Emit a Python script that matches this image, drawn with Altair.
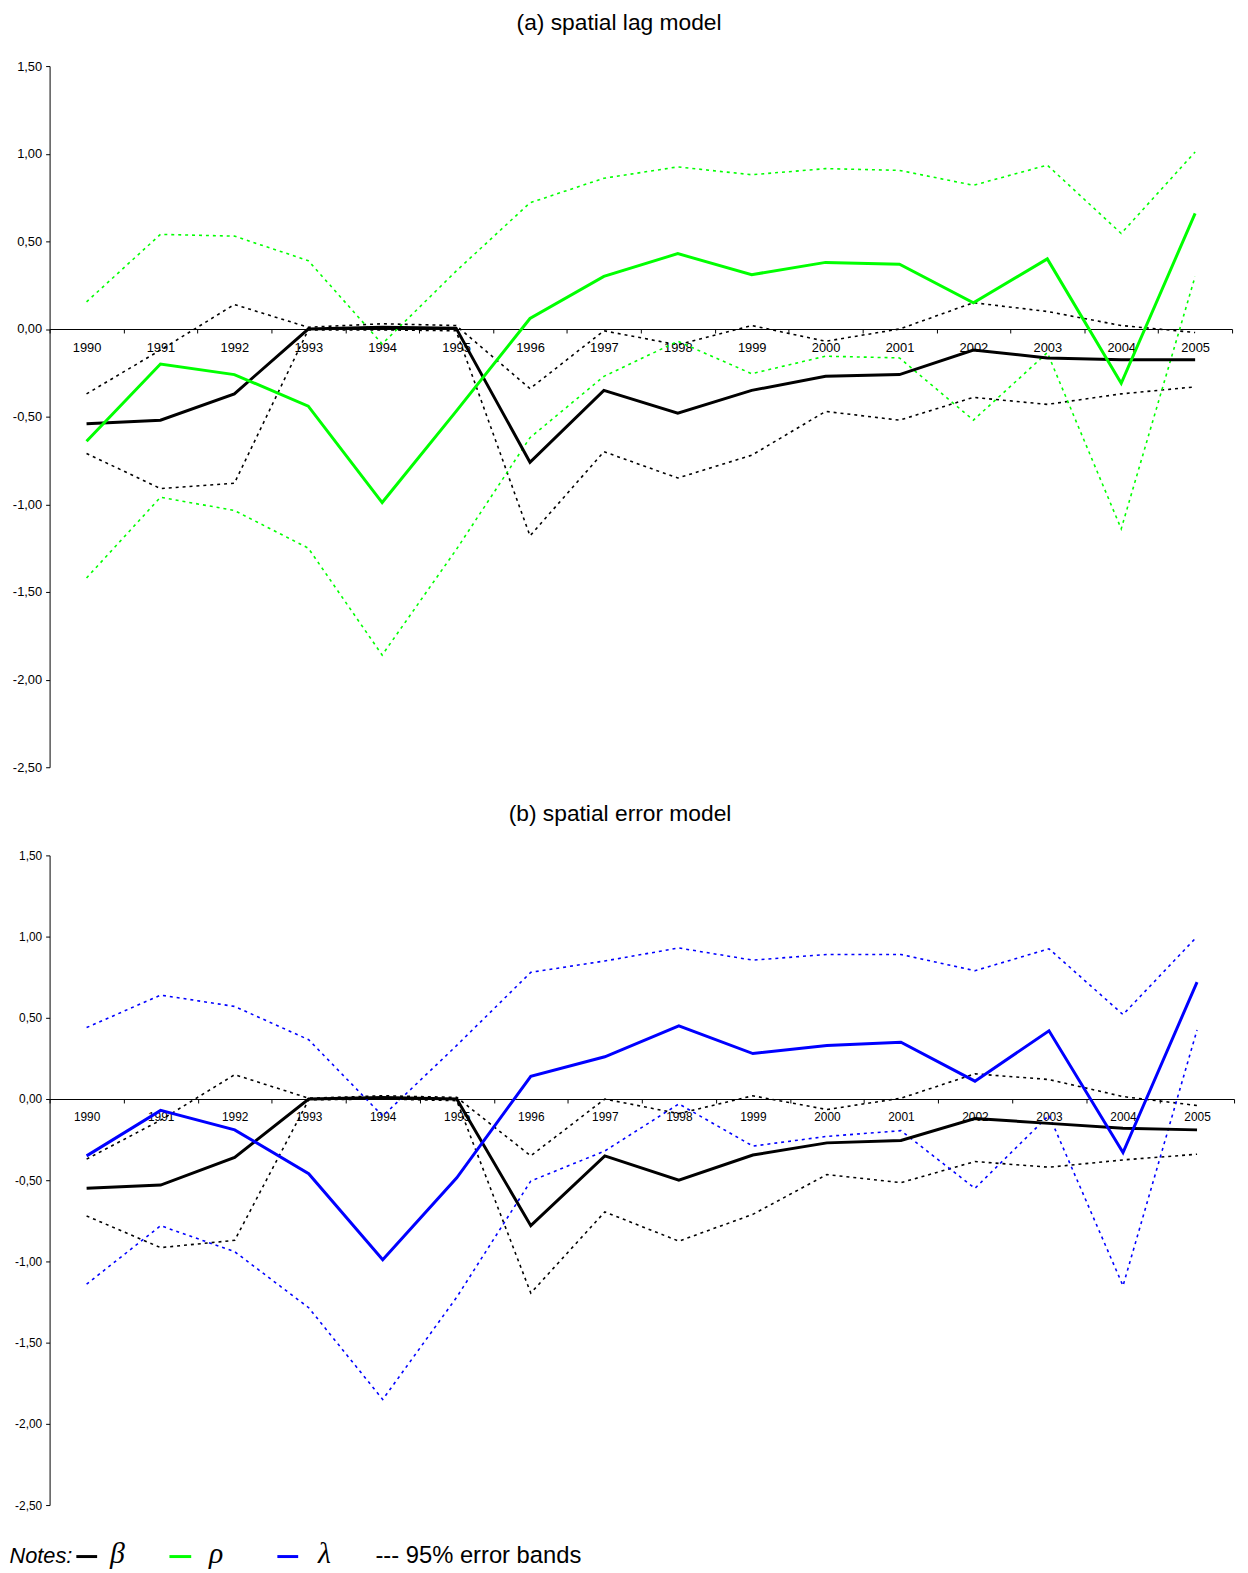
import altair as alt
import pandas as pd

# ---------------- data ----------------
years = [str(y) for y in range(1990, 2006)]

# (a) spatial lag model
beta_a = [-0.54, -0.52, -0.37, 0.00, 0.01, 0.005, -0.76, -0.35, -0.48, -0.35, -0.27, -0.26, -0.12, -0.165, -0.175, -0.175]
beta_a_hi = [-0.37, -0.12, 0.14, 0.01, 0.03, 0.02, -0.34, -0.01, -0.09, 0.02, -0.07, 0.0, 0.15, 0.10, 0.02, -0.02]
beta_a_lo = [-0.71, -0.91, -0.88, -0.005, -0.005, -0.01, -1.18, -0.70, -0.85, -0.72, -0.47, -0.52, -0.39, -0.43, -0.37, -0.33]
rho = [-0.64, -0.20, -0.26, -0.44, -0.99, -0.47, 0.06, 0.30, 0.43, 0.31, 0.38, 0.37, 0.15, 0.40, -0.31, 0.66]
rho_hi = [0.155, 0.54, 0.53, 0.39, -0.085, 0.33, 0.72, 0.86, 0.925, 0.88, 0.915, 0.905, 0.82, 0.935, 0.545, 1.01]
rho_lo = [-1.42, -0.96, -1.035, -1.25, -1.86, -1.26, -0.62, -0.27, -0.07, -0.255, -0.155, -0.165, -0.52, -0.135, -1.14, 0.30]

# (b) spatial error model
beta_b = [-0.55, -0.53, -0.36, 0.00, 0.01, 0.0, -0.78, -0.35, -0.50, -0.345, -0.27, -0.255, -0.12, -0.15, -0.18, -0.19]
beta_b_hi = [-0.37, -0.13, 0.15, 0.005, 0.02, 0.01, -0.35, 0.0, -0.09, 0.02, -0.065, 0.005, 0.155, 0.12, 0.015, -0.04]
beta_b_lo = [-0.72, -0.915, -0.87, -0.005, 0.0, -0.01, -1.195, -0.695, -0.875, -0.71, -0.465, -0.515, -0.385, -0.42, -0.375, -0.34]
lam = [-0.35, -0.07, -0.19, -0.46, -0.99, -0.485, 0.14, 0.26, 0.45, 0.28, 0.33, 0.35, 0.11, 0.42, -0.33, 0.72]
lam_hi = [0.44, 0.64, 0.57, 0.365, -0.105, 0.33, 0.78, 0.85, 0.93, 0.855, 0.89, 0.89, 0.79, 0.925, 0.52, 1.0]
lam_lo = [-1.14, -0.78, -0.94, -1.285, -1.85, -1.22, -0.505, -0.32, -0.03, -0.29, -0.23, -0.195, -0.55, -0.10, -1.15, 0.425]

y_ticks = [1.5, 1.0, 0.5, 0.0, -0.5, -1.0, -1.5, -2.0, -2.5]
y_domain = [-2.5, 1.5]

titles = ["(a) spatial lag model", "(b) spatial error model"]
note_texts = ["Notes:", "β", "ρ", "λ", "--- 95% error bands"]

GREEN = "#00ff00"
BLUE = "#0000ff"
BLACK = "#000000"
FONT = "Liberation Sans"

one = alt.Data(values=[{}])


def long_df(series):
    rows = []
    for name, vals in series.items():
        for y, v in zip(years, vals):
            rows.append({"year": y, "series": name, "value": v})
    return pd.DataFrame(rows)


def panel(series, solid_names, band_names, colors, width, height, fs):
    df = long_df(series)
    zero_offset = -height * (0 - y_domain[0]) / (y_domain[1] - y_domain[0])
    x = alt.X(
        "year:O",
        scale=alt.Scale(type="band", paddingInner=0, paddingOuter=0),
        bandPosition=0.5,
        axis=alt.Axis(
            title=None, tickBand="extent", offset=zero_offset, labelAngle=0,
            labelFontSize=fs, labelPadding=9, tickSize=4, domainColor=BLACK,
            tickColor=BLACK, labelColor=BLACK, grid=False, labelFont=FONT,
            domainWidth=1, tickWidth=1,
        ),
    )
    y = alt.Y(
        "value:Q",
        scale=alt.Scale(domain=y_domain, nice=False, zero=False),
        axis=alt.Axis(
            title=None, values=y_ticks, grid=False, tickSize=4,
            domainColor=BLACK, tickColor=BLACK, labelColor=BLACK,
            labelFontSize=fs, labelFont=FONT, labelPadding=4,
            labelExpr="(datum.value < 0 ? '-' : '') + replace(format(abs(datum.value), '.2f'), '.', ',')",
        ),
    )
    names = list(series.keys())
    color = alt.Color("series:N", scale=alt.Scale(domain=names, range=colors), legend=None)
    base = alt.Chart(df).encode(x=x, y=y, color=color, detail="series:N")
    bands = base.transform_filter(
        alt.FieldOneOfPredicate(field="series", oneOf=band_names)
    ).mark_line(strokeWidth=1.6, strokeDash=[3, 4])
    solids = base.transform_filter(
        alt.FieldOneOfPredicate(field="series", oneOf=solid_names)
    ).mark_line(strokeWidth=3)
    return bands, solids


def title_mark(text, width, dy):
    # panel heading placed above the plot area
    return alt.Chart(one).mark_text(
        align="center", baseline="alphabetic", fontSize=23, font=FONT, color=BLACK
    ).encode(x=alt.value(width / 2 - 22), y=alt.value(dy), text=alt.value(text))


TOP_W, TOP_H = 1194, 708
BOT_W, BOT_H = 1196, 656

top_bands, top_solid = panel(
    {"a_beta_hi": beta_a_hi, "a_beta_lo": beta_a_lo, "a_rho_hi": rho_hi, "a_rho_lo": rho_lo,
     "a_beta": beta_a, "a_rho": rho},
    ["a_beta", "a_rho"], ["a_beta_hi", "a_beta_lo", "a_rho_hi", "a_rho_lo"],
    [BLACK, BLACK, GREEN, GREEN, BLACK, GREEN], TOP_W, TOP_H, 13,
)
bot_bands, bot_solid = panel(
    {"b_beta_hi": beta_b_hi, "b_beta_lo": beta_b_lo, "b_lam_hi": lam_hi, "b_lam_lo": lam_lo,
     "b_beta": beta_b, "b_lam": lam},
    ["b_beta", "b_lam"], ["b_beta_hi", "b_beta_lo", "b_lam_hi", "b_lam_lo"],
    [BLACK, BLACK, BLUE, BLUE, BLACK, BLUE], BOT_W, BOT_H, 12,
)

top = alt.layer(top_bands, top_solid, title_mark(titles[0], TOP_W, -36)).properties(
    width=TOP_W, height=TOP_H
)

# ---- notes line below the lower panel (layout positions, in pixels) ----
NOTE_Y = BOT_H + 59
LINE_Y = NOTE_Y - 7


def note_text(txt, px, size, font, italic, align="left"):
    return alt.Chart(one).mark_text(
        align=align, baseline="alphabetic", fontSize=size, font=font,
        fontStyle="italic" if italic else "normal", color=BLACK,
    ).encode(x=alt.value(px), y=alt.value(NOTE_Y), text=alt.value(txt))


def note_line(x1, x2, col):
    return alt.Chart(one).mark_rule(strokeWidth=3, color=col).encode(
        x=alt.value(x1), x2=alt.value(x2), y=alt.value(LINE_Y)
    )


notes = [
    note_text(note_texts[0], 23, 22, FONT, True, align="right"),
    note_line(27, 48, BLACK),
    note_text(note_texts[1], 61, 30, "Liberation Serif", True),
    note_line(121, 143, GREEN),
    note_text(note_texts[2], 161, 30, "Liberation Serif", True),
    note_line(230, 251, BLUE),
    note_text(note_texts[3], 271, 30, "Liberation Serif", True),
    note_text(note_texts[4], 329, 24, FONT, False),
]

bottom = alt.layer(bot_bands, bot_solid, title_mark(titles[1], BOT_W, -35), *notes).properties(
    width=BOT_W, height=BOT_H
)

chart = (
    alt.vconcat(top, bottom, spacing=89, bounds="flush")
    .resolve_scale(color="independent")
    .properties(padding={"left": 1, "top": -3, "right": 5, "bottom": 0}, background="white")
    .configure_view(strokeWidth=0, stroke="transparent")
)

chart.save("out.html", embed_options={"renderer": "svg", "actions": False})
